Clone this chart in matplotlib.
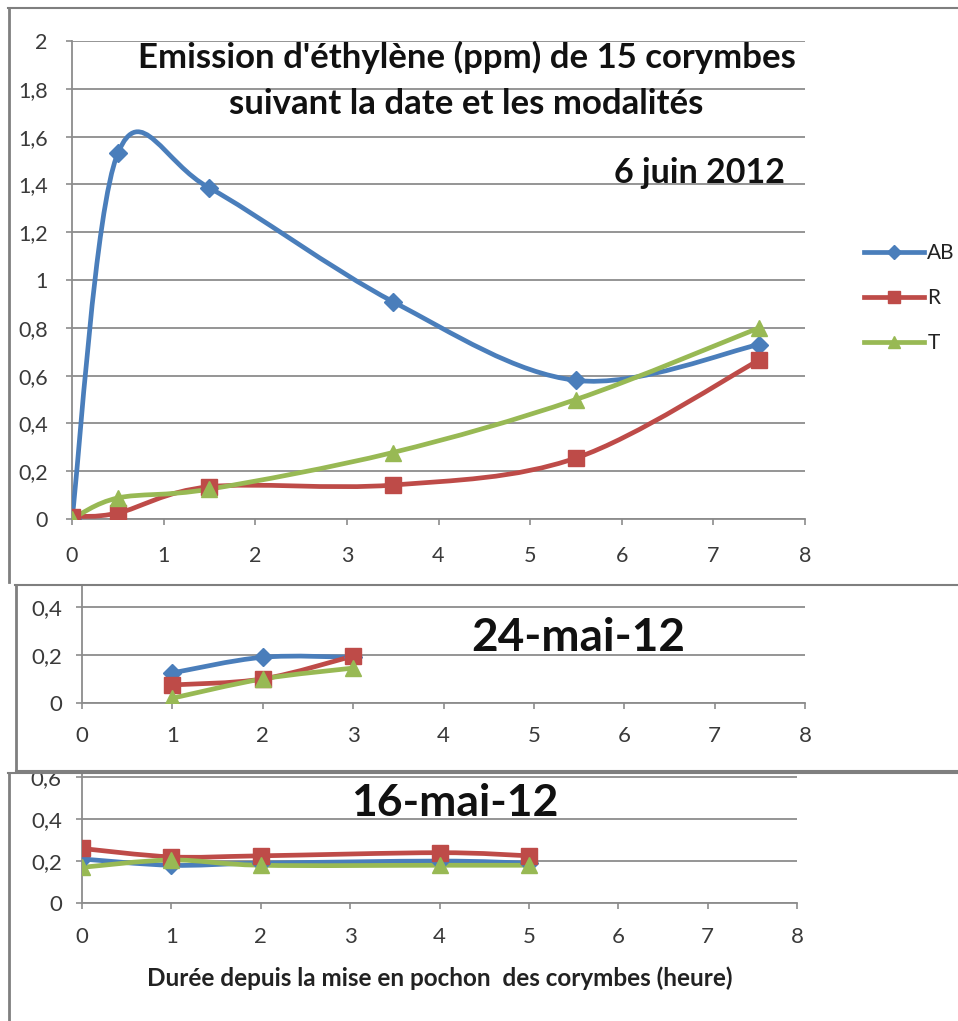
import numpy as np
import matplotlib
matplotlib.use('Agg')
import matplotlib.pyplot as plt
from matplotlib.path import Path
from matplotlib.patches import PathPatch
from matplotlib.lines import Line2D
from matplotlib.ticker import FuncFormatter, MultipleLocator

plt.rcParams['font.family'] = ['Lato', 'DejaVu Sans']

# 6 juin 2012
x_juin = [0, 0.5, 1.5, 3.5, 5.5, 7.5]
ab_juin = [0.0, 1.53, 1.385, 0.91, 0.58, 0.73]
r_juin = [0.01, 0.025, 0.135, 0.142, 0.255, 0.665]
t_juin = [0.0, 0.088, 0.125, 0.278, 0.50, 0.80]

# 24 mai 2012
x_24mai = [1, 2, 3]
ab_24mai = [0.125, 0.19, 0.19]
r_24mai = [0.075, 0.10, 0.195]
t_24mai = [0.02, 0.10, 0.145]

# 16 mai 2012
x_16mai = [0, 1, 2, 4, 5]
ab_16mai = [0.21, 0.18, 0.19, 0.20, 0.19]
r_16mai = [0.26, 0.22, 0.225, 0.24, 0.225]
t_16mai = [0.17, 0.205, 0.18, 0.18, 0.18]

series = ['AB', 'R', 'T']
colors = {'AB': '#4A7EBB', 'R': '#BE4B48', 'T': '#98B954'}
markers = {'AB': 'D', 'R': 's', 'T': '^'}
msizes = {'AB': 9, 'R': 11, 'T': 11}

W, H = 958, 1021
fig = plt.figure(figsize=(W / 100, H / 100), dpi=100)


def box(x0, y0, x1, y1):
    # pixel box (top-left origin) -> figure fractions
    return [x0 / W, 1 - y1 / H, (x1 - x0) / W, (y1 - y0) / H]


def smooth_path(xs, ys):
    # Excel-like smoothed line (Catmull-Rom -> cubic Bezier)
    p = np.column_stack([xs, ys]).astype(float)
    n = len(p)
    verts = [p[0]]
    codes = [Path.MOVETO]
    for i in range(n - 1):
        p0 = p[i - 1] if i > 0 else p[i]
        p3 = p[i + 2] if i + 2 < n else p[i + 1]
        c1 = p[i] + (p[i + 1] - p0) / 6
        c2 = p[i + 1] - (p3 - p[i]) / 6
        verts += [c1, c2, p[i + 1]]
        codes += [Path.CURVE4] * 3
    return Path(verts, codes)


def draw_series(ax, xs, data):
    for name, ys in zip(series, data):
        patch = PathPatch(smooth_path(xs, ys), facecolor='none', edgecolor=colors[name],
                          lw=3.4, capstyle='round', joinstyle='round', zorder=3)
        ax.add_patch(patch)
        ax.plot(xs, ys, linestyle='none', marker=markers[name], ms=msizes[name],
                color=colors[name], mec=colors[name], zorder=4)


comma = FuncFormatter(lambda v, pos: f"{v:g}".replace('.', ','))
grid_c = '#8C8C8C'
tick_c = '#3A3A3A'


def style(ax, ymax, ystep, size, xpad, ypad):
    ax.set_xlim(0, 8)
    ax.set_ylim(0, ymax)
    ax.xaxis.set_major_locator(MultipleLocator(1))
    ax.yaxis.set_major_locator(MultipleLocator(ystep))
    ax.yaxis.set_major_formatter(comma)
    ax.grid(axis='y', color=grid_c, lw=1.3)
    ax.set_axisbelow(True)
    for s in ['top', 'right']:
        ax.spines[s].set_visible(False)
    for s in ['left', 'bottom']:
        ax.spines[s].set_color(grid_c)
        ax.spines[s].set_linewidth(1.3)
    ax.tick_params(axis='both', direction='out', length=4.5, width=1.2, color=grid_c,
                   labelsize=size, labelcolor=tick_c)
    ax.tick_params(axis='x', pad=xpad)
    ax.tick_params(axis='y', pad=ypad)
    ax.set_facecolor('none')


# frames
frame_c = '#7F7F7F'
for xs_, ys_, lw in [([8, 958], [8, 8], 1.5), ([9, 9], [8, 582], 2.0),
                     ([15, 958], [585, 585], 1.5), ([16, 16], [585, 771], 2.0),
                     ([16, 958], [771, 771], 1.5),
                     ([8, 958], [773, 773], 1.5), ([9, 9], [773, 1021], 2.0)]:
    fig.add_artist(Line2D([x / W for x in xs_], [1 - y / H for y in ys_],
                          color=frame_c, lw=lw, transform=fig.transFigure))

# top panel
ax1 = fig.add_axes(box(72, 41, 805, 519))
style(ax1, 2, 0.2, 15.5, 15, 13)
draw_series(ax1, x_juin, [ab_juin, r_juin, t_juin])

fig.text(467 / W, 1 - 57 / H, "Emission d'éthylène (ppm) de 15 corymbes",
         ha='center', va='center', fontsize=25, fontweight='bold', color='#111111')
fig.text(466 / W, 1 - 104 / H, "suivant la date et les modalités",
         ha='center', va='center', fontsize=25, fontweight='bold', color='#111111')
fig.text(785 / W, 1 - 173 / H, "6 juin 2012",
         ha='right', va='center', fontsize=24.5, fontweight='bold', color='#111111')

handles = [Line2D([], [], color=colors[n], lw=3.4, marker=markers[n], ms=msizes[n] * 0.8)
           for n in series]
fig.legend(handles, series, loc='center left', bbox_to_anchor=(845 / W, 1 - 298 / H),
           frameon=False, handlelength=2.9, labelspacing=1.2, fontsize=15,
           labelcolor='#222222', handletextpad=0.15)

# middle panel
ax2 = fig.add_axes(box(82, 585, 805, 703))
style(ax2, 0.49, 0.2, 16, 12, 10)
draw_series(ax2, x_24mai, [ab_24mai, r_24mai, t_24mai])
fig.text(578 / W, 1 - 638 / H, "24-mai-12", ha='center', va='center',
         fontsize=33, fontweight='bold', color='#111111')

# bottom panel
ax3 = fig.add_axes(box(82, 773, 797, 903))
style(ax3, 0.62, 0.2, 16, 13, 10)
draw_series(ax3, x_16mai, [ab_16mai, r_16mai, t_16mai])
fig.text(455 / W, 1 - 803 / H, "16-mai-12", ha='center', va='center',
         fontsize=32, fontweight='bold', color='#111111')
fig.text(440 / W, 1 - 978 / H, "Durée depuis la mise en pochon  des corymbes (heure)",
         ha='center', va='center', fontsize=17.5, fontweight='bold', color='#222222')

fig.savefig('out.png', dpi=100, facecolor='white')
